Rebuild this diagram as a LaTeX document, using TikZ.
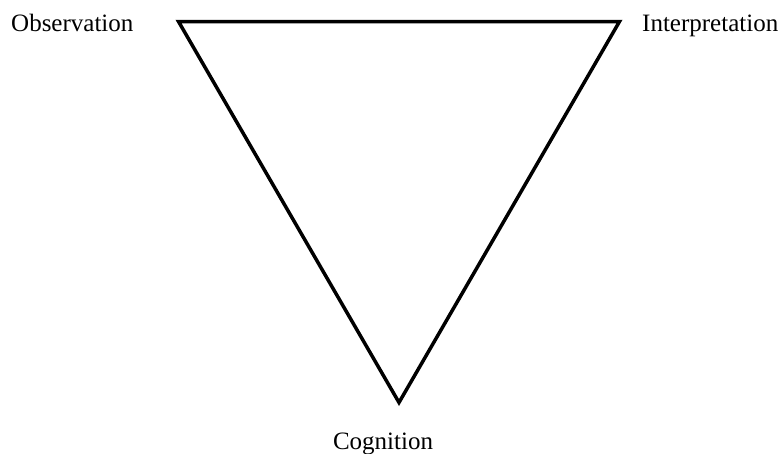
\documentclass[tikz,border=0pt]{standalone}
\usepackage{fontspec}
\setmainfont{Liberation Serif}
\begin{document}
\begin{tikzpicture}[x=1pt,y=-1pt,
  lbl/.style={inner sep=0pt,font=\fontsize{25}{30}\selectfont},
  edge/.style={line width=3.5pt,line join=miter}]
\useasboundingbox (0,0) rectangle (783,453);
\coordinate (tl) at (178.5,21.5);
\coordinate (tr) at (619.5,21.5);
\coordinate (bt) at (399,402.5);
\draw[edge] (tl) -- (tr) -- (bt) -- cycle;
\node[lbl,anchor=base west] (obs) at (11,31) {Observation};
\node[lbl,anchor=base west] (int) at (642,31) {Interpretation};
\node[lbl,anchor=base] (cog) at (383,449) {Cognition};
\end{tikzpicture}
\end{document}
